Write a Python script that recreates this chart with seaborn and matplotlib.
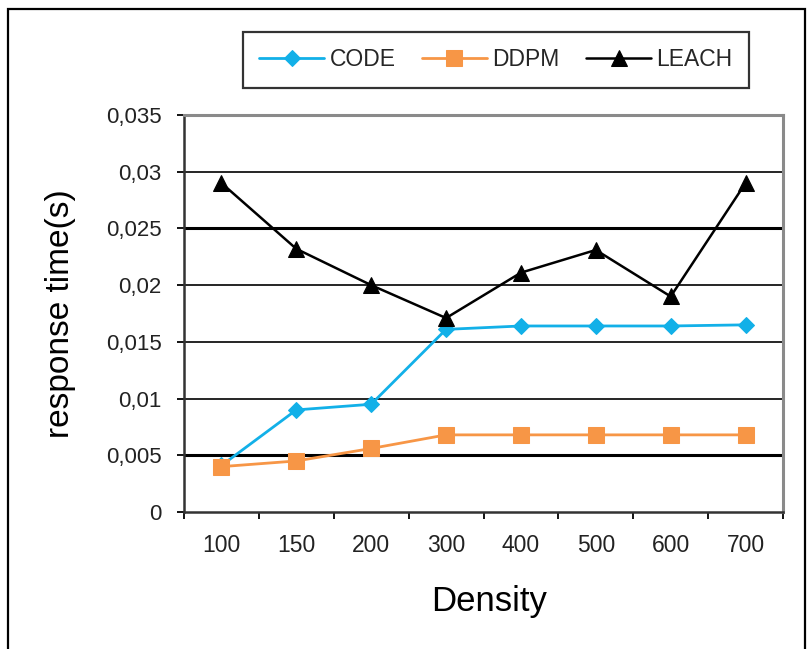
import matplotlib
matplotlib.use("Agg")
import matplotlib.pyplot as plt
from matplotlib.patches import Rectangle
import seaborn as sns
import pandas as pd

# Data
density = ["100", "150", "200", "300", "400", "500", "600", "700"]
code = [0.0041, 0.0090, 0.0095, 0.0161, 0.0164, 0.0164, 0.0164, 0.0165]
ddpm = [0.0040, 0.0045, 0.0056, 0.0068, 0.0068, 0.0068, 0.0068, 0.0068]
leach = [0.0290, 0.0232, 0.0200, 0.0171, 0.0211, 0.0231, 0.0190, 0.0290]
series_names = ["CODE", "DDPM", "LEACH"]
y_ticks = [0, 0.005, 0.01, 0.015, 0.02, 0.025, 0.03, 0.035]
y_tick_labels = ["0", "0,005", "0,01", "0,015", "0,02", "0,025", "0,03", "0,035"]

df = pd.DataFrame({
    "Density": density * 3,
    "value": code + ddpm + leach,
    "series": [s for s in series_names for _ in density],
})

sns.set_theme(style="white")
plt.rcParams["font.family"] = ["Liberation Sans", "DejaVu Sans"]

W, H = 811, 649
fig = plt.figure(figsize=(W / 100, H / 100), dpi=100)
fig.patch.set_facecolor("white")

left, right, top, bottom = 184, 783, 115, 512
ax = fig.add_axes([left / W, 1 - bottom / H, (right - left) / W, (bottom - top) / H])

palette = {"CODE": "#12B0E8", "DDPM": "#F79646", "LEACH": "#000000"}
markers = {"CODE": "D", "DDPM": "s", "LEACH": "^"}
sizes = {"CODE": 8.5, "DDPM": 12, "LEACH": 12}

# grid lines behind the data
for v in y_ticks[1:-1]:
    lw = 2.2 if v in (0.005, 0.025) else 1.2
    ax.axhline(v, color="black", lw=lw, zorder=1)

for name in series_names:
    sub = df[df["series"] == name]
    sns.lineplot(data=sub, x="Density", y="value", ax=ax, color=palette[name],
                 marker=markers[name], markersize=sizes[name],
                 markeredgecolor=palette[name], linewidth=2 if name != "LEACH" else 1.8,
                 sort=False, zorder=3, label=name, legend=False)

ax.set_xlim(-0.5, 7.5)
ax.set_ylim(0, 0.035)
ax.set_yticks(y_ticks)
ax.set_yticklabels(y_tick_labels)
ax.set_xticks(range(len(density)))
ax.set_xticklabels(density)
ax.set_xticks([i - 0.5 for i in range(len(density) + 1)], minor=True)

ax.tick_params(axis="y", which="major", direction="out", length=5, width=1.3,
               color="black", labelsize=16, labelcolor="#222222", pad=11, left=True)
ax.tick_params(axis="x", which="major", length=0, labelsize=16.5,
               labelcolor="#222222", pad=16)
ax.tick_params(axis="x", which="minor", direction="out", length=5, width=1.3,
               color="black", bottom=True)

for side in ("top", "right"):
    ax.spines[side].set_color("#8a8a8a")
    ax.spines[side].set_linewidth(2.2)
ax.spines["left"].set_color("#333333")
ax.spines["left"].set_linewidth(1.8)
ax.spines["bottom"].set_color("#333333")
ax.spines["bottom"].set_linewidth(1.8)

ax.set_ylabel("response time(s)", fontsize=24, color="black")
ax.yaxis.label.set_va("center")
ax.yaxis.set_label_coords((60 - left) / (right - left), (bottom - 314) / (bottom - top))
ax.set_xlabel("Density", fontsize=25, color="black")
ax.xaxis.label.set_va("center")
ax.xaxis.set_label_coords((489 - left) / (right - left), -(601 - bottom) / (bottom - top))

# legend box across the top
lx0, lx1, ly0, ly1 = 232, 760, 30, 90
h, l = ax.get_legend_handles_labels()
leg = fig.legend(h, l, loc="center", ncol=3, mode="expand",
                 bbox_to_anchor=(lx0 / W, 1 - ly1 / H, (lx1 - lx0) / W, (ly1 - ly0) / H),
                 frameon=True, fancybox=False, fontsize=16.5, handlelength=2.8,
                 handletextpad=0.25, borderpad=0.7, columnspacing=1.0)
leg.get_frame().set_edgecolor("black")
leg.get_frame().set_linewidth(1.6)

# outer chart border
fig.patches.append(Rectangle((8 / W, -0.02), (805 - 8) / W, (H - 9) / H + 0.02,
                             transform=fig.transFigure, fill=False,
                             edgecolor="black", linewidth=1.6))

fig.savefig("out.png", dpi=100)
